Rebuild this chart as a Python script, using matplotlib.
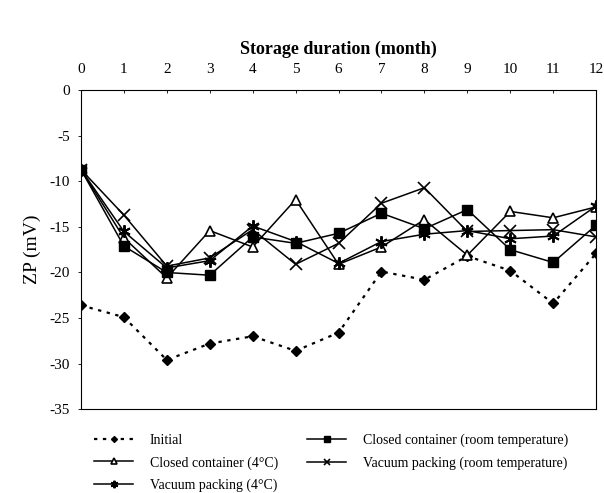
import matplotlib
matplotlib.use("Agg")
import matplotlib.pyplot as plt

plt.rcParams["font.family"] = ["Liberation Serif", "DejaVu Serif"]
plt.rcParams["axes.unicode_minus"] = False

# === Data ===
months = list(range(13))
initial = [-23.6, -24.9, -29.6, -27.8, -27.0, -28.6, -26.6, -19.9, -20.8, -18.2, -19.8, -23.4, -17.9]
closed_4c = [-8.7, -16.2, -20.6, -15.4, -17.2, -12.0, -19.1, -17.2, -14.2, -18.1, -13.3, -14.0, -12.8]
vacuum_4c = [-8.7, -15.5, -19.5, -18.7, -14.9, -16.6, -19.0, -16.6, -15.8, -15.4, -16.3, -16.0, -12.7]
closed_rt = [-8.7, -17.1, -20.0, -20.3, -16.1, -16.8, -15.7, -13.5, -15.2, -13.1, -17.5, -18.9, -14.8]
vacuum_rt = [-8.7, -13.7, -19.3, -18.4, -15.3, -19.1, -16.8, -12.4, -10.7, -15.5, -15.4, -15.3, -16.1]

y_ticks = [0, -5, -10, -15, -20, -25, -30, -35]

fig = plt.figure(figsize=(6.04, 4.93), dpi=100)
ax = fig.add_axes([0.134, 0.170, 0.853, 0.647])

lw = 1.1
h1, = ax.plot(months, initial, linestyle=(0, (1.5, 2.5)), color="black", lw=1.6,
              marker="D", markersize=5, label="Initial")
h2, = ax.plot(months, closed_4c, color="black", lw=lw, marker="^", markersize=7,
              markerfacecolor="white", markeredgewidth=1.2, label="Closed container (4°C)")
h3, = ax.plot(months, vacuum_4c, color="black", lw=lw, marker=(6, 2, 0), markersize=9,
              markeredgewidth=1.4, label="Vacuum packing (4°C)")
h4, = ax.plot(months, closed_rt, color="black", lw=lw, marker="s", markersize=6.5,
              label="Closed container (room temperature)")
h5, = ax.plot(months, vacuum_rt, color="black", lw=lw, marker="x", markersize=8,
              markeredgewidth=1.2, label="Vacuum packing (room temperature)")

ax.set_xlim(0, 12)
ax.set_ylim(-35, 0)
ax.set_xticks(months)
ax.set_yticks(y_ticks)
ax.xaxis.tick_top()
ax.xaxis.set_label_position("top")
ax.tick_params(axis="x", direction="in", length=2, width=0.6, labelsize=11, pad=10)
ax.tick_params(axis="y", direction="out", length=2, width=0.6, labelsize=11, pad=6)
ax.set_xlabel("Storage duration (month)", fontsize=13, fontweight="bold", labelpad=7)
ax.set_ylabel("ZP (mV)", fontsize=14, labelpad=6)

for sp in ax.spines.values():
    sp.set_linewidth(0.8)
    sp.set_linestyle((0, (2, 1)))

fig.legend(handles=[h1, h2, h3, h4, h5], ncol=2, loc="upper left",
           bbox_to_anchor=(0.147, 0.131), frameon=False, fontsize=10,
           handlelength=2.8, columnspacing=2.1, labelspacing=0.63,
           borderaxespad=0, handletextpad=1.2, markerscale=0.6)

fig.savefig("out.png", dpi=100)
